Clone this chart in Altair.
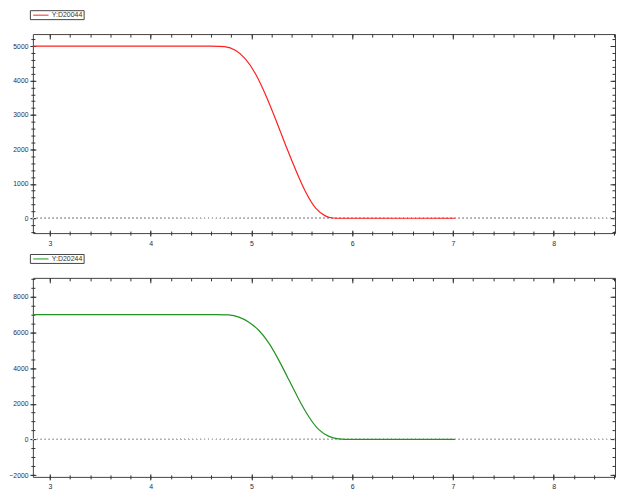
import altair as alt
import pandas as pd

# ---- data ----
top_name = "Y:D20044"
top_x = [2.83, 4.40, 4.60, 4.74, 4.84, 4.94, 5.04, 5.14, 5.24, 5.34, 5.44, 5.54, 5.64, 5.74, 5.80, 5.90, 6.10, 7.02]
top_y = [5000, 5000, 5000, 5000, 4904, 4663, 4230, 3606, 2885, 2115, 1394, 721, 240, 46, 0, 0, 0, 0]

bot_name = "Y:D20244"
bot_x = [2.83, 4.45, 4.65, 4.78, 4.875, 4.97, 5.07, 5.17, 5.27, 5.37, 5.47, 5.57, 5.67, 5.77, 5.87, 5.93, 6.03, 6.20, 7.02]
bot_y = [7000, 7000, 7000, 7000, 6880, 6620, 6180, 5480, 4480, 3360, 2240, 1230, 480, 130, 15, 0, 0, 0, 0]

x_major = [3, 4, 5, 6, 7, 8]
x_minor = [round(3.0 + 0.2 * k, 1) for k in range(0, 29)]
x_domain = [2.83, 8.61]

top_y_major = [0, 1000, 2000, 3000, 4000, 5000]
top_y_minor = list(range(-400, 5400, 200))
top_y_domain = [-430, 5350]

bot_y_major = [-2000, 0, 2000, 4000, 6000, 8000]
bot_y_minor = list(range(-2000, 9001, 500))
bot_y_domain = [-2100, 9060]

FONT = "Liberation Sans"
TICK = "#333333"
LAB = "#2a2a44"


def ax(values, orient, size, offset, labels=False, fmt=None, pad=3, fs=7, extent=None):
    kw = dict(values=values, orient=orient, tickSize=size, offset=offset,
              labels=labels, domain=False, grid=False, title=None,
              tickColor=TICK, tickWidth=1)
    if labels:
        kw.update(labelFontSize=fs, labelFont=FONT, labelColor=LAB,
                  labelPadding=pad, format=fmt)
    if extent is None:
        extent = size
    kw.update(minExtent=extent, maxExtent=extent)
    return alt.Axis(**kw)


def panel(xs, ys, name, color, ydom, ymaj, ymin):
    df = pd.DataFrame({"x": xs, "y": ys, "series": name})
    xsc = alt.Scale(domain=x_domain, nice=False, zero=False)
    ysc = alt.Scale(domain=ydom, nice=False, zero=False)
    base = alt.Chart(df)

    zero = base.mark_rule(color="#b4b4b4", strokeDash=[1, 3], strokeWidth=1).encode(
        y=alt.YDatum(0, scale=ysc, axis=None)
    )
    line = base.mark_line(strokeWidth=1.2, interpolate="basis", clip=True).encode(
        x=alt.X("x:Q", scale=xsc,
                axis=ax(x_major, "bottom", 6, -3, True, "d", pad=3, fs=7, extent=14)),
        y=alt.Y("y:Q", scale=ysc,
                axis=ax(ymaj, "left", 6, -3, True, "d", pad=2, fs=6.8, extent=22)),
        color=alt.Color(
            "series:N",
            scale=alt.Scale(domain=[name], range=[color]),
            legend=alt.Legend(
                title=None, orient="none", legendX=-3, legendY=-24,
                symbolType="M-2.2,0L2.2,0", symbolSize=49, symbolStrokeWidth=1,
                symbolOffset=6, labelOffset=7,
                labelFontSize=7, labelFont=FONT, labelColor="#333333",
                padding=1, strokeColor="#444444",
                fillColor="white", cornerRadius=0, rowPadding=0,
            ),
        ),
    )
    minor_bl = base.mark_point(opacity=0).encode(
        x=alt.X("x:Q", scale=xsc, axis=ax(x_minor, "bottom", 4, -2)),
        y=alt.Y("y:Q", scale=ysc, axis=ax(ymin, "left", 4, -2)),
    )
    major_tr = base.mark_point(opacity=0).encode(
        x=alt.X("x:Q", scale=xsc, axis=ax(x_major, "top", 5, -5)),
        y=alt.Y("y:Q", scale=ysc, axis=ax(ymaj, "right", 5, -5)),
    )
    minor_tr = base.mark_point(opacity=0).encode(
        x=alt.X("x:Q", scale=xsc, axis=ax(x_minor, "top", 3, -3)),
        y=alt.Y("y:Q", scale=ysc, axis=ax(ymin, "right", 3, -3)),
    )
    return (
        alt.layer(zero, minor_bl, major_tr, minor_tr, line)
        .resolve_axis(x="independent", y="independent")
        .properties(width=585, height=200)
    )


top = panel(top_x, top_y, top_name, "#ff2020", top_y_domain, top_y_major, top_y_minor)
bot = panel(bot_x, bot_y, bot_name, "#1f941f", bot_y_domain, bot_y_major, bot_y_minor)

chart = (
    alt.vconcat(top, bot, spacing=6)
    .resolve_scale(color="independent")
    .resolve_legend(color="independent")
    .properties(padding=0, background="white")
    .configure_view(stroke="#444444", strokeWidth=1)
)

chart.save("out.html", embed_options={"renderer": "svg", "actions": False})
